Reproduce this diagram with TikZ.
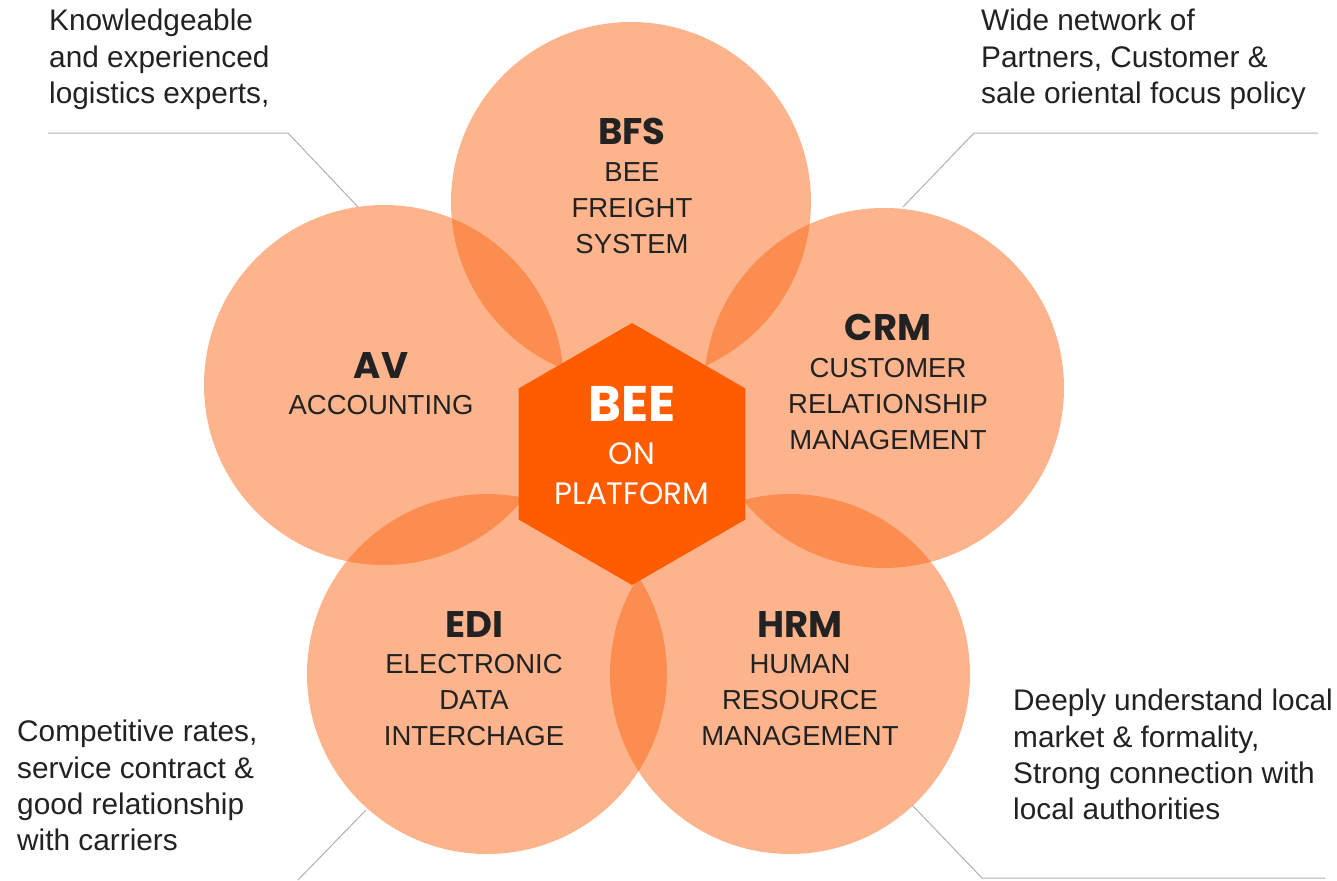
\documentclass[tikz,border=0pt]{standalone}
\usepackage{fontspec}
\setmainfont{Liberation Sans}
\newfontfamily\geo{Poppins}
\usetikzlibrary{shapes.geometric}
\definecolor{petal}{RGB}{251,99,15}
\definecolor{hexorange}{RGB}{255,92,0}
\definecolor{txt}{RGB}{34,34,34}
\definecolor{leader}{RGB}{176,176,176}
\tikzset{
  petalcircle/.style={circle, fill=petal, fill opacity=0.48, draw=none, minimum size=360pt, inner sep=0pt},
  ptitle/.style={font=\geo\bfseries\fontsize{37}{40}\selectfont, text=txt, inner sep=0pt, anchor=center},
  plabel/.style={font=\fontsize{27.5}{36}\selectfont, text=txt, align=center, inner sep=0pt, anchor=center},
  sidetext/.style={font=\fontsize{29.8}{36.3}\selectfont, text=txt, align=left, inner sep=0pt, anchor=north west},
  leaderline/.style={draw=leader, line width=1pt},
}
\begin{document}
\begin{tikzpicture}[x=1pt,y=-1pt]
\useasboundingbox (0,0) rectangle (1337,880);
% petals
\node[petalcircle] (bfs) at (631,202) {};
\node[petalcircle] (av)  at (384,385) {};
\node[petalcircle] (crm) at (884,388) {};
\node[petalcircle] (edi) at (487,674) {};
\node[petalcircle] (hrm) at (790,674) {};
% hexagon
\node[regular polygon, regular polygon sides=6, shape border rotate=30, minimum size=262pt, inner sep=0pt, fill=hexorange] (hex) at (632,454) {};
\node[font=\geo\bfseries\fontsize{50}{50}\selectfont, text=white, inner sep=0pt] (hexa) at (632,404) {BEE};
\node[font=\geo\fontsize{31}{31}\selectfont, text=white, inner sep=0pt] (hexb) at (632,454) {ON};
\node[font=\geo\fontsize{31}{31}\selectfont, text=white, inner sep=0pt] (hexc) at (632,494) {PLATFORM};
% petal labels
\node[ptitle] (bfst) at (632,131) {BFS};
\node[plabel] (bfsl) at (632,208) {BEE\\FREIGHT\\SYSTEM};
\node[ptitle] (avt) at (381,366) {AV};
\node[plabel] (avl) at (381,405) {ACCOUNTING};
\node[ptitle] (crmt) at (888,327) {CRM};
\node[plabel] (crml) at (888,404) {CUSTOMER\\RELATIONSHIP\\MANAGEMENT};
\node[ptitle] (edit) at (474,625) {EDI};
\node[plabel] (edil) at (474,700) {ELECTRONIC\\DATA\\INTERCHAGE};
\node[ptitle] (hrmt) at (800,625) {HRM};
\node[plabel] (hrml) at (800,700) {HUMAN\\RESOURCE\\MANAGEMENT};
% side texts
\node[sidetext] (tl) at (49,9) {Knowledgeable\\and experienced\\logistics experts,};
\node[sidetext] (tr) at (981,9) {Wide network of\\Partners, Customer \&\\sale oriental focus policy};
\node[sidetext] (bl) at (17,720) {Competitive rates,\\service contract \&\\good relationship\\with carriers};
\node[sidetext] (br) at (1013,689) {Deeply understand local\\market \& formality,\\Strong connection with\\local authorities};
% leader lines
\coordinate (tla) at (48,133);
\coordinate (tlb) at (288,133);
\coordinate (tlc) at (358,207);
\coordinate (tra) at (1318,133);
\coordinate (trb) at (974,133);
\coordinate (trc) at (903,207);
\coordinate (blb) at (366,810);
\coordinate (bla) at (298,880);
\coordinate (brb) at (912,805);
\coordinate (brc) at (982,878);
\coordinate (bra) at (1325,878);
\draw[leaderline] (tla) -- (tlb) -- (tlc);
\draw[leaderline] (tra) -- (trb) -- (trc);
\draw[leaderline] (blb) -- (bla);
\draw[leaderline] (brb) -- (brc) -- (bra);
\end{tikzpicture}
\end{document}
